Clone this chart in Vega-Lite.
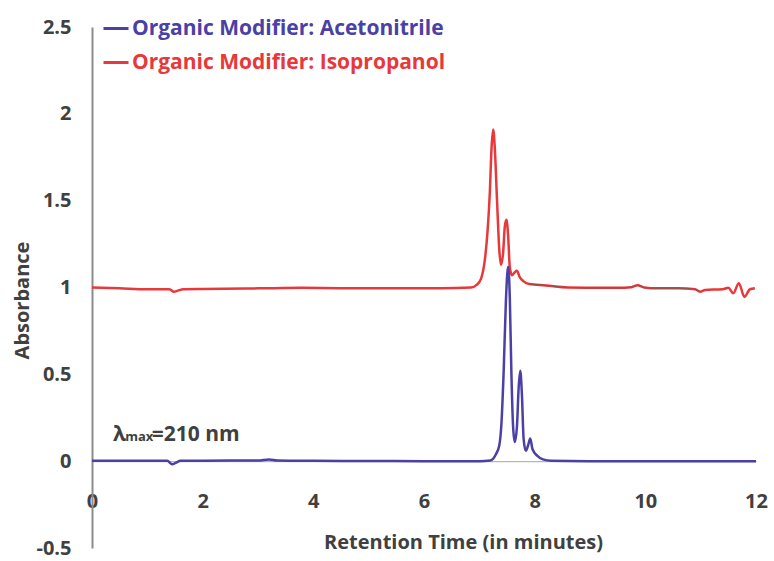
{
  "$schema": "https://vega.github.io/schema/vega-lite/v6.json",
  "width": 664,
  "height": 521,
  "autosize": "none",
  "padding": {"left": 92, "top": 27, "right": 18, "bottom": 13},
  "background": "white",
  "config": {"view": {"stroke": null}, "font": "Open Sans"},
  "datasets": {
    "traces": [
      {"series": "Organic Modifier: Isopropanol", "time": 0, "absorbance": 1.0},
      {"series": "Organic Modifier: Isopropanol", "time": 0.5, "absorbance": 0.995},
      {"series": "Organic Modifier: Isopropanol", "time": 1.0, "absorbance": 0.99},
      {"series": "Organic Modifier: Isopropanol", "time": 1.4, "absorbance": 0.99},
      {"series": "Organic Modifier: Isopropanol", "time": 1.48, "absorbance": 0.976},
      {"series": "Organic Modifier: Isopropanol", "time": 1.55, "absorbance": 0.982},
      {"series": "Organic Modifier: Isopropanol", "time": 1.65, "absorbance": 0.99},
      {"series": "Organic Modifier: Isopropanol", "time": 2.0, "absorbance": 0.992},
      {"series": "Organic Modifier: Isopropanol", "time": 3.0, "absorbance": 0.995},
      {"series": "Organic Modifier: Isopropanol", "time": 3.8, "absorbance": 0.998},
      {"series": "Organic Modifier: Isopropanol", "time": 4.5, "absorbance": 0.996},
      {"series": "Organic Modifier: Isopropanol", "time": 5.5, "absorbance": 0.996},
      {"series": "Organic Modifier: Isopropanol", "time": 6.3, "absorbance": 0.996},
      {"series": "Organic Modifier: Isopropanol", "time": 6.85, "absorbance": 1.0},
      {"series": "Organic Modifier: Isopropanol", "time": 6.95, "absorbance": 1.015},
      {"series": "Organic Modifier: Isopropanol", "time": 7.03, "absorbance": 1.05},
      {"series": "Organic Modifier: Isopropanol", "time": 7.1, "absorbance": 1.16},
      {"series": "Organic Modifier: Isopropanol", "time": 7.15, "absorbance": 1.33},
      {"series": "Organic Modifier: Isopropanol", "time": 7.19, "absorbance": 1.55},
      {"series": "Organic Modifier: Isopropanol", "time": 7.22, "absorbance": 1.8},
      {"series": "Organic Modifier: Isopropanol", "time": 7.25, "absorbance": 1.91},
      {"series": "Organic Modifier: Isopropanol", "time": 7.28, "absorbance": 1.8},
      {"series": "Organic Modifier: Isopropanol", "time": 7.32, "absorbance": 1.5},
      {"series": "Organic Modifier: Isopropanol", "time": 7.36, "absorbance": 1.22},
      {"series": "Organic Modifier: Isopropanol", "time": 7.39, "absorbance": 1.13},
      {"series": "Organic Modifier: Isopropanol", "time": 7.43, "absorbance": 1.2},
      {"series": "Organic Modifier: Isopropanol", "time": 7.46, "absorbance": 1.35},
      {"series": "Organic Modifier: Isopropanol", "time": 7.49, "absorbance": 1.39},
      {"series": "Organic Modifier: Isopropanol", "time": 7.52, "absorbance": 1.3},
      {"series": "Organic Modifier: Isopropanol", "time": 7.55, "absorbance": 1.12},
      {"series": "Organic Modifier: Isopropanol", "time": 7.59, "absorbance": 1.07},
      {"series": "Organic Modifier: Isopropanol", "time": 7.64, "absorbance": 1.088},
      {"series": "Organic Modifier: Isopropanol", "time": 7.68, "absorbance": 1.096},
      {"series": "Organic Modifier: Isopropanol", "time": 7.73, "absorbance": 1.06},
      {"series": "Organic Modifier: Isopropanol", "time": 7.8, "absorbance": 1.035},
      {"series": "Organic Modifier: Isopropanol", "time": 7.9, "absorbance": 1.02},
      {"series": "Organic Modifier: Isopropanol", "time": 8.2, "absorbance": 1.012},
      {"series": "Organic Modifier: Isopropanol", "time": 8.6, "absorbance": 1.0},
      {"series": "Organic Modifier: Isopropanol", "time": 9.0, "absorbance": 0.999},
      {"series": "Organic Modifier: Isopropanol", "time": 9.5, "absorbance": 0.999},
      {"series": "Organic Modifier: Isopropanol", "time": 9.75, "absorbance": 1.002},
      {"series": "Organic Modifier: Isopropanol", "time": 9.86, "absorbance": 1.013},
      {"series": "Organic Modifier: Isopropanol", "time": 9.98, "absorbance": 1.0},
      {"series": "Organic Modifier: Isopropanol", "time": 10.2, "absorbance": 0.995},
      {"series": "Organic Modifier: Isopropanol", "time": 10.6, "absorbance": 0.995},
      {"series": "Organic Modifier: Isopropanol", "time": 10.9, "absorbance": 0.99},
      {"series": "Organic Modifier: Isopropanol", "time": 10.99, "absorbance": 0.976},
      {"series": "Organic Modifier: Isopropanol", "time": 11.08, "absorbance": 0.986},
      {"series": "Organic Modifier: Isopropanol", "time": 11.4, "absorbance": 0.99},
      {"series": "Organic Modifier: Isopropanol", "time": 11.5, "absorbance": 0.998},
      {"series": "Organic Modifier: Isopropanol", "time": 11.59, "absorbance": 0.967},
      {"series": "Organic Modifier: Isopropanol", "time": 11.69, "absorbance": 1.025},
      {"series": "Organic Modifier: Isopropanol", "time": 11.79, "absorbance": 0.946},
      {"series": "Organic Modifier: Isopropanol", "time": 11.89, "absorbance": 0.99},
      {"series": "Organic Modifier: Isopropanol", "time": 11.98, "absorbance": 0.996},
      {"series": "Organic Modifier: Acetonitrile", "time": 0, "absorbance": 0.003},
      {"series": "Organic Modifier: Acetonitrile", "time": 0.5, "absorbance": 0.002},
      {"series": "Organic Modifier: Acetonitrile", "time": 1.0, "absorbance": 0.002},
      {"series": "Organic Modifier: Acetonitrile", "time": 1.36, "absorbance": 0.002},
      {"series": "Organic Modifier: Acetonitrile", "time": 1.45, "absorbance": -0.018},
      {"series": "Organic Modifier: Acetonitrile", "time": 1.51, "absorbance": -0.01},
      {"series": "Organic Modifier: Acetonitrile", "time": 1.6, "absorbance": 0.002},
      {"series": "Organic Modifier: Acetonitrile", "time": 2.0, "absorbance": 0.003},
      {"series": "Organic Modifier: Acetonitrile", "time": 3.0, "absorbance": 0.004},
      {"series": "Organic Modifier: Acetonitrile", "time": 3.2, "absorbance": 0.01},
      {"series": "Organic Modifier: Acetonitrile", "time": 3.35, "absorbance": 0.004},
      {"series": "Organic Modifier: Acetonitrile", "time": 4.0, "absorbance": 0.002},
      {"series": "Organic Modifier: Acetonitrile", "time": 5.0, "absorbance": 0.001},
      {"series": "Organic Modifier: Acetonitrile", "time": 6.0, "absorbance": 0.0},
      {"series": "Organic Modifier: Acetonitrile", "time": 7.0, "absorbance": 0.0},
      {"series": "Organic Modifier: Acetonitrile", "time": 7.2, "absorbance": 0.004},
      {"series": "Organic Modifier: Acetonitrile", "time": 7.3, "absorbance": 0.04},
      {"series": "Organic Modifier: Acetonitrile", "time": 7.36, "absorbance": 0.09},
      {"series": "Organic Modifier: Acetonitrile", "time": 7.4, "absorbance": 0.22},
      {"series": "Organic Modifier: Acetonitrile", "time": 7.44, "absorbance": 0.52},
      {"series": "Organic Modifier: Acetonitrile", "time": 7.48, "absorbance": 0.92},
      {"series": "Organic Modifier: Acetonitrile", "time": 7.52, "absorbance": 1.12},
      {"series": "Organic Modifier: Acetonitrile", "time": 7.55, "absorbance": 0.95},
      {"series": "Organic Modifier: Acetonitrile", "time": 7.58, "absorbance": 0.5},
      {"series": "Organic Modifier: Acetonitrile", "time": 7.61, "absorbance": 0.2},
      {"series": "Organic Modifier: Acetonitrile", "time": 7.64, "absorbance": 0.11},
      {"series": "Organic Modifier: Acetonitrile", "time": 7.68, "absorbance": 0.2},
      {"series": "Organic Modifier: Acetonitrile", "time": 7.71, "absorbance": 0.42},
      {"series": "Organic Modifier: Acetonitrile", "time": 7.74, "absorbance": 0.52},
      {"series": "Organic Modifier: Acetonitrile", "time": 7.77, "absorbance": 0.38},
      {"series": "Organic Modifier: Acetonitrile", "time": 7.8, "absorbance": 0.13},
      {"series": "Organic Modifier: Acetonitrile", "time": 7.84, "absorbance": 0.06},
      {"series": "Organic Modifier: Acetonitrile", "time": 7.88, "absorbance": 0.09},
      {"series": "Organic Modifier: Acetonitrile", "time": 7.92, "absorbance": 0.13},
      {"series": "Organic Modifier: Acetonitrile", "time": 7.96, "absorbance": 0.07},
      {"series": "Organic Modifier: Acetonitrile", "time": 8.05, "absorbance": 0.03},
      {"series": "Organic Modifier: Acetonitrile", "time": 8.15, "absorbance": 0.01},
      {"series": "Organic Modifier: Acetonitrile", "time": 8.3, "absorbance": 0.002},
      {"series": "Organic Modifier: Acetonitrile", "time": 9.0, "absorbance": 0.0},
      {"series": "Organic Modifier: Acetonitrile", "time": 10.0, "absorbance": 0.0},
      {"series": "Organic Modifier: Acetonitrile", "time": 11.0, "absorbance": 0.0},
      {"series": "Organic Modifier: Acetonitrile", "time": 12.0, "absorbance": 0.0}
    ],
    "noteMain": [
      {"time": 0.38, "absorbance": 0.118, "text": "λ"},
      {"time": 1.08, "absorbance": 0.118, "text": "=210 nm"}
    ],
    "noteSub": [
      {"time": 0.6, "absorbance": 0.118, "text": "max"}
    ]
  },
  "layer": [
    {
      "data": {"name": "traces"},
      "transform": [{"filter": "datum.series === 'Organic Modifier: Isopropanol'"}],
      "mark": {"type": "line", "strokeWidth": 2.5, "interpolate": "monotone"},
      "encoding": {
        "x": {
          "field": "time", "type": "quantitative",
          "scale": {"domain": [0, 12], "nice": false, "zero": false},
          "axis": {
            "title": "Retention Time (in minutes)",
            "values": [0, 2, 4, 6, 8, 10, 12],
            "labelExpr": "'' + datum.value",
            "offset": -86.8,
            "grid": false, "ticks": false, "tickSize": 0,
            "domainColor": "#a6a6a6", "domainWidth": 1,
            "labelPadding": 30, "labelFontSize": 20, "labelFontWeight": "bold",
            "labelColor": "#404040", "labelFlush": false,
            "titleFontSize": 20, "titleFontWeight": "bold", "titleColor": "#404040",
            "titleX": 371, "titleY": 81, "titleBaseline": "middle"
          }
        },
        "y": {
          "field": "absorbance", "type": "quantitative",
          "scale": {"domain": [-0.5, 2.5], "nice": false, "zero": false},
          "axis": {
            "title": "Absorbance",
            "values": [-0.5, 0, 0.5, 1, 1.5, 2, 2.5],
            "labelExpr": "'' + datum.value",
            "grid": false, "ticks": false, "tickSize": 0,
            "domainColor": "#8c8c8c", "domainWidth": 2,
            "labelPadding": 21, "labelFontSize": 20, "labelFontWeight": "bold",
            "labelColor": "#404040",
            "titleFontSize": 20, "titleFontWeight": "bold", "titleColor": "#404040",
            "titleX": -70, "titleY": 273, "titleBaseline": "middle"
          }
        },
        "color": {
          "field": "series", "type": "nominal",
          "scale": {
            "domain": ["Organic Modifier: Acetonitrile", "Organic Modifier: Isopropanol"],
            "range": ["#4a40a6", "#e8383a"]
          },
          "legend": {
            "orient": "none", "legendX": 10, "legendY": -12.5, "title": null,
            "padding": 0, "symbolType": "stroke", "symbolSize": 625, "symbolStrokeWidth": 3,
            "labelFontSize": 21, "labelFontWeight": "bold", "labelOffset": 2,
            "rowPadding": 10, "labelLimit": 600,
            "encode": {
              "labels": {
                "update": {
                  "fill": {"signal": "datum.value === 'Organic Modifier: Acetonitrile' ? '#4a40a6' : '#e8383a'"}
                }
              }
            }
          }
        }
      }
    },
    {
      "data": {"name": "traces"},
      "transform": [{"filter": "datum.series === 'Organic Modifier: Isopropanol' && datum.time >= 7.9 && datum.time <= 11.0"}],
      "mark": {"type": "line", "strokeWidth": 1.2, "interpolate": "monotone", "color": "#6e5a5a", "opacity": 0.6},
      "encoding": {
        "x": {"field": "time", "type": "quantitative"},
        "y": {"field": "absorbance", "type": "quantitative"}
      }
    },
    {
      "data": {"name": "traces"},
      "transform": [{"filter": "datum.series === 'Organic Modifier: Acetonitrile'"}],
      "mark": {"type": "line", "strokeWidth": 2.5, "interpolate": "monotone"},
      "encoding": {
        "x": {"field": "time", "type": "quantitative"},
        "y": {"field": "absorbance", "type": "quantitative"},
        "color": {"field": "series", "type": "nominal"}
      }
    },
    {
      "data": {"name": "noteMain"},
      "mark": {"type": "text", "align": "left", "baseline": "alphabetic", "fontSize": 21, "fontWeight": "bold", "color": "#404040"},
      "encoding": {
        "x": {"field": "time", "type": "quantitative"},
        "y": {"field": "absorbance", "type": "quantitative"},
        "text": {"field": "text"}
      }
    },
    {
      "data": {"name": "noteSub"},
      "mark": {"type": "text", "align": "left", "baseline": "alphabetic", "fontSize": 13, "fontWeight": "bold", "color": "#404040"},
      "encoding": {
        "x": {"field": "time", "type": "quantitative"},
        "y": {"field": "absorbance", "type": "quantitative"},
        "text": {"field": "text"}
      }
    }
  ]
}
